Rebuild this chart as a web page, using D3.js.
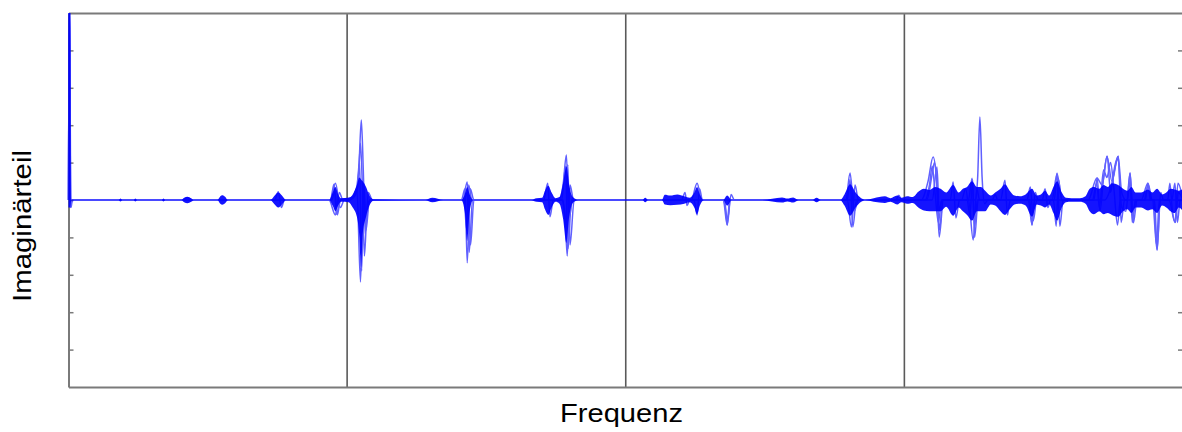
<!DOCTYPE html>
<html><head><meta charset="utf-8">
<script src="https://cdn.jsdelivr.net/npm/d3@7"></script>
<style>html,body{margin:0;padding:0;background:#fff;} svg{display:block;}</style>
</head><body>
<svg id="chart" width="1182" height="432"></svg>
<script>
const xLabel = "Frequenz";
const yLabel = "Imaginärteil";
const gridFreqs = [100, 200, 300];
const yTicks = [-4, -3, -2, -1, 0, 1, 2, 3, 4];

// dense core of all overlapping spectra (upper / lower envelope)
const coreFreq = [
  0, 0.6, 1.0, 18, 18.65, 19.3, 23.4, 24, 24.6, 33.5, 34.1, 34.7, 40.5, 41.5, 42.7, 44, 45,
  53.5, 54.5, 55.2, 56.2, 57.2,
  72.5, 74, 75.3, 76.6, 78,
  93.6, 94.8, 95.8, 96.8, 97.8, 100.5, 102, 103.5, 104.4, 105, 105.6, 106.8, 108, 109.5,
  128, 130.6, 134.5, 141, 142.2, 143.1, 144, 145.2,
  166, 168, 170, 171, 172.2, 173.4, 174.8, 176.2, 177.5, 178.7, 179.7, 181, 183,
  206, 207, 208, 213, 214, 216, 218.5, 221, 223, 224.6, 225.6, 226.6, 228,
  235, 236.4, 238, 249, 256.1, 258, 260.1, 262, 267, 268.5, 270,
  277, 278.5, 280.5, 282.5, 284.5, 286, 289, 293, 295, 297.4, 299, 301, 303,
  305, 307, 309, 311, 313, 315, 317.5, 319.5, 321, 322.5, 324.3, 326, 327.5, 329, 331,
  332.6, 334.5, 336.1, 337.8, 339.5, 341.5, 343.5, 345.8, 347.5, 349, 350.5, 352, 353.5, 354.8, 356.5, 358, 360, 363,
  365, 366.5, 368, 370, 371.5, 373, 374.5, 376.7, 378.5, 380, 381.5, 383, 385, 387.4, 389, 390.7, 392.5, 394, 395.5, 397, 398.5, 400
];
const coreUpper = [
  6, 6, 0.005, 0.005, 0.04, 0.005, 0.005, 0.04, 0.005, 0.005, 0.04, 0.005, 0.005, 0.06, 0.09, 0.05, 0.005,
  0.005, 0.1, 0.13, 0.09, 0.005,
  0.005, 0.12, 0.2, 0.12, 0.005,
  0.005, 0.2, 0.35, 0.15, 0.05, 0.06, 0.15, 0.4, 0.6, 0.55, 0.5, 0.35, 0.12, 0.02,
  0.005, 0.06, 0.005, 0.005, 0.15, 0.35, 0.15, 0.005,
  0.005, 0.05, 0.06, 0.25, 0.38, 0.2, 0.05, 0.08, 0.45, 0.9, 0.4, 0.08, 0.005,
  0.005, 0.06, 0.005, 0.005, 0.14, 0.12, 0.15, 0.1, 0.06, 0.2, 0.35, 0.15, 0.005,
  0.005, 0.12, 0.005, 0.005, 0.07, 0.04, 0.07, 0.005, 0.005, 0.06, 0.005,
  0.005, 0.15, 0.42, 0.2, 0.05, 0.01, 0.05, 0.1, 0.05, 0.12, 0.06, 0.1, 0.08,
  0.22, 0.3, 0.27, 0.35, 0.3, 0.2, 0.4, 0.2, 0.3, 0.35, 0.5, 0.35, 0.35, 0.25, 0.12,
  0.2, 0.3, 0.42, 0.25, 0.12, 0.1, 0.15, 0.3, 0.12, 0.15, 0.25, 0.12, 0.35, 0.5, 0.2, 0.06, 0.05, 0.05,
  0.1, 0.3, 0.35, 0.3, 0.4, 0.35, 0.45, 0.4, 0.3, 0.25, 0.35, 0.2, 0.2, 0.28, 0.2, 0.3, 0.15, 0.2, 0.3, 0.28, 0.25, 0.3
];
const coreLower = [
  -0.2, -0.2, -0.005, -0.005, -0.04, -0.005, -0.005, -0.04, -0.005, -0.005, -0.04, -0.005, -0.005, -0.06, -0.09, -0.05, -0.005,
  -0.005, -0.1, -0.13, -0.09, -0.005,
  -0.005, -0.12, -0.2, -0.12, -0.005,
  -0.005, -0.15, -0.3, -0.15, -0.05, -0.06, -0.2, -0.45, -1.0, -1.8, -0.9, -0.45, -0.15, -0.02,
  -0.005, -0.06, -0.005, -0.005, -0.3, -1.1, -0.3, -0.005,
  -0.005, -0.05, -0.06, -0.25, -0.4, -0.2, -0.05, -0.1, -0.5, -1.15, -0.45, -0.08, -0.005,
  -0.005, -0.06, -0.005, -0.005, -0.12, -0.14, -0.13, -0.1, -0.06, -0.2, -0.38, -0.15, -0.005,
  -0.005, -0.15, -0.005, -0.005, -0.07, -0.04, -0.07, -0.005, -0.005, -0.06, -0.005,
  -0.005, -0.15, -0.42, -0.2, -0.05, -0.01, -0.05, -0.08, -0.05, -0.12, -0.06, -0.1, -0.08,
  -0.2, -0.28, -0.3, -0.3, -0.3, -0.18, -0.42, -0.2, -0.3, -0.4, -0.55, -0.3, -0.3, -0.3, -0.12,
  -0.15, -0.3, -0.4, -0.25, -0.12, -0.1, -0.15, -0.45, -0.12, -0.15, -0.2, -0.12, -0.35, -0.55, -0.2, -0.06, -0.05, -0.05,
  -0.1, -0.3, -0.38, -0.3, -0.38, -0.35, -0.4, -0.45, -0.3, -0.25, -0.35, -0.2, -0.2, -0.28, -0.25, -0.35, -0.15, -0.2, -0.3, -0.35, -0.2, -0.3
];

// individual outlying spectra, [frequency, imaginary part]
const traceA = [
  [0,0],[0.3,5.6],[0.7,-0.2],[1.2,0],
  [40.9,0],[42.7,0.06],[44.5,0],
  [94,0],[95.8,0.45],[97.6,-0.2],[99,0],
  [101,0],[103.3,0.3],[104.3,1.0],[105.1,2.14],[105.8,0.8],[106.5,-0.9],[107.6,0.2],[109.1,0],
  [141,0],[142.3,0.3],[143.1,-1.68],[144.2,0.3],[145.5,0],
  [176,0],[177.5,0.4],[178.7,1.2],[179.6,-0.5],[181,0],
  [223.5,0],[225.6,0.45],[227.3,0],
  [279,0],[280.5,0.72],[282,-0.3],[283.5,0],
  [306,0],[308.5,0.5],[310.3,1.15],[311.5,0.6],[312.5,-0.99],[314,0],
  [325.5,0],[326.3,0.6],[327.1,2.22],[327.9,0.6],[328.8,-0.1],[330,0],
  [353,0],[354.8,0.7],[356.6,0],
  [366,0],[369.1,0.59],[371,0.4],[372.7,1.17],[374.5,0.5],[376.7,1.17],[378,0.2],[379.5,0],
  [385,0],[387.4,0.45],[389,0],
  [400,0]
];
const traceB = [
  [0,0],[0.3,5.4],[0.7,-0.2],[1.2,0],
  [93.5,0],[95.8,-0.4],[97.2,0.2],[98.5,0],
  [100.4,0],[102,0.05],[103.5,0.3],[104.8,-2.19],[105.8,0.3],[106.8,-0.5],[108,0],
  [141.5,0],[143.1,0.48],[144.3,-1.2],[145.5,0],
  [177,0],[178.2,-0.4],[179,-1.5],[180,0.4],[181.3,0],
  [235,0],[236.4,-0.67],[237.8,0.15],[239,0],
  [279.5,0],[281,-0.72],[282.3,0.4],[283.5,0],
  [310,0],[311.7,0.88],[312.5,-0.3],[313.5,0],
  [323,0],[324.7,-1.07],[326,0.3],[327,0],
  [344.5,0],[345.8,-0.67],[347,0.2],[348,0],
  [372,0],[374,0.3],[376.7,1.1],[378,-0.2],[379.5,-0.3],[381,0.72],[382.2,-0.61],[383.5,0],
  [389,0],[390.7,-1.34],[392,0.2],[393,0],
  [395,0],[397.1,-0.6],[398.2,0.45],[400,0]
];
const traceC = [
  [0,0],[0.3,5.5],[0.8,-0.15],[1.3,0],
  [94,0],[95.3,0.42],[96.2,-0.38],[97.6,0],
  [98,0.02],[101,0.05],[103,0.15],[104,0.5],[104.8,1.52],[105.5,0.3],[106.2,-1.5],[107.2,-0.2],[108.5,0],
  [142,0],[143.1,0.2],[143.8,-1.4],[145,0],
  [170.5,0],[172,0.45],[172.8,-0.45],[174,0],
  [177.5,0],[178.5,-0.8],[179.2,0.95],[180,-1.2],[181.5,0],
  [220,0],[221.3,0.2],[222,-0.15],[223,0],
  [235,0],[236.6,-0.5],[237.5,0],
  [297,0],[298,0.13],[299,0],
  [308,0],[310,0.7],[310.8,1.0],[311.8,0.3],[312.6,-0.8],[313.8,0],
  [316.5,0],[317.5,0.48],[318.5,-0.48],[319.8,0],
  [323,0],[324.3,0.58],[325.2,-0.7],[326.2,0],
  [334.5,0],[336.1,0.53],[337,-0.4],[338,0],
  [344,0],[345.2,0.35],[346.3,-0.55],[347.5,0],
  [349.5,0],[350.5,0.3],[351.5,-0.2],[352.5,0],
  [353.5,0],[354.5,-0.7],[355.3,0.55],[356.5,0],
  [367.5,0],[369,0.45],[370,-0.2],[371.5,0.8],[372.7,0.6],[374,1.0],[375.2,0.3],[376.5,-0.67],[377.5,0],
  [380,0],[381,0.5],[381.8,-0.6],[383,0],
  [386,0],[387.6,0.4],[388.5,0],
  [389.5,0],[390.5,-1.2],[391.5,0],
  [396,0],[397.1,0.45],[398,-0.6],[399,0],[400,0]
];
const traceD = [
  [0,0],[0.3,5.3],[0.9,-0.2],[1.4,0],
  [74,0],[75.3,0.22],[76.4,-0.2],[77.5,0],
  [94.5,0],[95.6,0.25],[96.5,-0.4],[97.6,0],
  [99,0],[102,0.05],[103.6,0.25],[104.5,1.0],[105.2,-1.9],[106,0.45],[106.8,-0.8],[108,0],
  [142,0],[142.9,-0.8],[143.6,0.4],[144.8,0],
  [177,0],[178.4,0.9],[179.3,-1.3],[180.5,0],
  [224.5,0],[225.6,-0.4],[226.5,0.3],[227.5,0],
  [235.5,0],[236.4,-0.67],[237.3,0],
  [279.5,0],[280.5,0.55],[281.5,-0.72],[282.8,0],
  [307.5,0],[309,0.4],[310,0.9],[311,0.2],[312.2,-0.6],[313.4,0],
  [320.5,0],[322,0.3],[323.5,-0.4],[324.5,0.55],[325.2,-1.0],[326.5,0],
  [331.5,0],[332.6,0.15],[333.5,0],
  [345,0],[345.8,-0.67],[346.8,0],
  [353.8,0],[354.8,0.72],[355.8,-0.7],[357,0],
  [368,0],[369.2,0.59],[370.2,-0.3],[371.5,0.6],[372.8,1.17],[374,0.2],[375.5,0.9],[376.8,1.17],[377.8,-0.6],[379,0],
  [380,0],[381,0.72],[382,-0.4],[383,0],
  [386.5,0],[387.4,0.45],[388.3,0],
  [389.8,0],[390.7,-1.34],[391.8,0],
  [394.5,0],[395.3,0.45],[396.2,-0.3],[397.3,-0.6],[398.3,0.2],[400,0]
];
const traces = [traceA, traceB, traceC, traceD];

const svg = d3.select("#chart");
const x = d3.scaleLinear().domain([0, 400]).range([68.5, 1183]);
const y = d3.scaleLinear().domain([-5, 5]).range([387, 13]);
const axisColor = "#7a7a7a";

svg.append("defs").append("clipPath").attr("id", "plotclip")
  .append("rect").attr("x", 67).attr("y", 13).attr("width", 1120).attr("height", 374);

// grid lines
svg.append("g").selectAll("line").data(gridFreqs).join("line")
  .attr("x1", d => x(d)).attr("x2", d => x(d))
  .attr("y1", y(5)).attr("y2", y(-5))
  .attr("stroke", "#5a5a5a").attr("stroke-width", 1.6);

// left axis + ticks (inward)
const yAxisL = d3.axisLeft(y).tickValues(yTicks).tickSizeInner(-5).tickSizeOuter(0).tickFormat("");
const gL = svg.append("g").attr("transform", `translate(${x(0)},0)`).call(yAxisL);
gL.select(".domain").attr("stroke", axisColor).attr("stroke-width", 2);
gL.selectAll(".tick line").attr("stroke", axisColor).attr("stroke-width", 1.5);

// right axis ticks (inward)
const yAxisR = d3.axisRight(y).tickValues(yTicks).tickSizeInner(-5).tickSizeOuter(0).tickFormat("");
const gR = svg.append("g").attr("transform", `translate(${x(400)},0)`).call(yAxisR);
gR.select(".domain").attr("stroke", axisColor).attr("stroke-width", 2);
gR.selectAll(".tick line").attr("stroke", axisColor).attr("stroke-width", 1.5);

// bottom and top frame
const xAxisB = d3.axisBottom(x).tickValues([]).tickSizeOuter(0);
const gB = svg.append("g").attr("transform", `translate(0,${y(-5)})`).call(xAxisB);
gB.select(".domain").attr("stroke", axisColor).attr("stroke-width", 2);
const xAxisT = d3.axisTop(x).tickValues([]).tickSizeOuter(0);
const gT = svg.append("g").attr("transform", `translate(0,${y(5)})`).call(xAxisT);
gT.select(".domain").attr("stroke", axisColor).attr("stroke-width", 2);

// data
const plot = svg.append("g").attr("clip-path", "url(#plotclip)");

const line = d3.line().x(d => x(d[0])).y(d => y(d[1])).curve(d3.curveMonotoneX);
plot.append("g").attr("opacity", 0.62)
  .selectAll("path.trace").data(traces).join("path").attr("class", "trace")
  .attr("d", line).attr("fill", "none")
  .attr("stroke", "#0000ff").attr("stroke-width", 1.5);

const coreData = coreFreq.map((f, i) => ({f, u: coreUpper[i], l: coreLower[i]}));
const area = d3.area().x(d => x(d.f)).y0(d => y(d.l)).y1(d => y(d.u)).curve(d3.curveMonotoneX);
plot.append("path").datum(coreData).attr("d", area)
  .attr("fill", "#0000ff").attr("fill-opacity", 0.92)
  .attr("stroke", "none");

// labels
svg.append("text").attr("x", 621.5).attr("y", 422).attr("text-anchor", "middle")
  .attr("font-family", "'Liberation Sans', Arial, sans-serif").attr("font-size", 25)
  .attr("textLength", 123).attr("lengthAdjust", "spacingAndGlyphs")
  .attr("fill", "#000").text(xLabel);
svg.append("text").attr("transform", "translate(31,226) rotate(-90)").attr("text-anchor", "middle")
  .attr("font-family", "'Liberation Sans', Arial, sans-serif").attr("font-size", 25)
  .attr("textLength", 152).attr("lengthAdjust", "spacingAndGlyphs")
  .attr("fill", "#000").text(yLabel);
</script>
</body></html>
